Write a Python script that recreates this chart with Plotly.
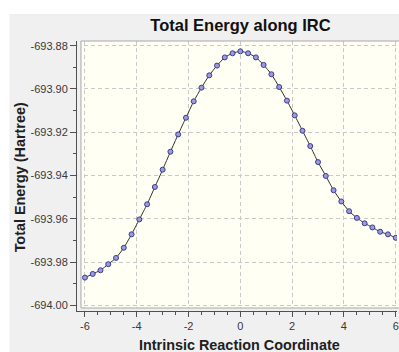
import plotly.graph_objects as go

# IRC coordinate (step 0.3) and total energy in Hartree
irc = [round(-6.0 + 0.3 * i, 1) for i in range(41)]
energy = [
    -693.9872, -693.9855, -693.9838, -693.9810, -693.9781, -693.9734, -693.9672,
    -693.9603, -693.9533, -693.9453, -693.9373, -693.9290, -693.9210, -693.9133,
    -693.9057, -693.8994, -693.8937, -693.8892, -693.8854, -693.8835, -693.8826,
    -693.8835, -693.8854, -693.8889, -693.8932, -693.8991, -693.9054, -693.9122,
    -693.9193, -693.9264, -693.9338, -693.9402, -693.9468, -693.9520, -693.9565,
    -693.9596, -693.9621, -693.9640, -693.9660, -693.9672, -693.9688,
]

x_ticks = [-6, -4, -2, 0, 2, 4, 6]
x_labels = ["-6", "-4", "-2", "0", "2", "4", "6"]
y_ticks = [-693.88, -693.90, -693.92, -693.94, -693.96, -693.98, -694.00]
y_labels = ["-693.88", "-693.90", "-693.92", "-693.94", "-693.96", "-693.98", "-694.00"]

FONT = "Arial, Liberation Sans, sans-serif"
PANEL = "#f0f0f0"
PLOT_BG = "#fffff3"
GRID = "#c9c9c9"
AXIS = "#505050"

W, H = 399, 352
ML, MT, MB = 77, 41, 41
PW, PH = W - ML, H - MT - MB


def px(xp):
    return (xp - ML) / PW


def py(yp):
    return (H - MB - yp) / PH


fig = go.Figure()
fig.add_trace(go.Scatter(
    x=irc, y=energy, mode="lines+markers",
    line=dict(color="#303030", width=1, shape="spline", smoothing=0.6),
    marker=dict(size=5, color="#9a9ade", line=dict(color="#3c3c8c", width=1)),
    showlegend=False, hoverinfo="x+y",
))

shapes = [
    # white strips on the top and left of the grey panel
    dict(type="rect", xref="paper", yref="paper", x0=px(-5), x1=px(W + 5),
         y0=py(14), y1=py(-5), fillcolor="white", line_width=0, layer="below"),
    dict(type="rect", xref="paper", yref="paper", x0=px(-5), x1=px(9),
         y0=py(H + 5), y1=py(-5), fillcolor="white", line_width=0, layer="below"),
    # plot area fill
    dict(type="rect", xref="paper", yref="paper", x0=px(81), x1=px(W + 5),
         y0=py(308), y1=py(41), fillcolor=PLOT_BG, line_width=0, layer="below"),
    # gap between axis lines and the framed area
    dict(type="rect", xref="paper", yref="paper", x0=px(77.5), x1=px(81),
         y0=py(311), y1=py(41), fillcolor=PANEL, line_width=0, layer="above"),
    dict(type="rect", xref="paper", yref="paper", x0=px(77.5), x1=px(W + 5),
         y0=py(310.5), y1=py(308), fillcolor=PANEL, line_width=0, layer="above"),
    # frame around the plot area
    dict(type="rect", xref="paper", yref="paper", x0=px(81), x1=px(W + 5),
         y0=py(308), y1=py(41), fillcolor="rgba(0,0,0,0)",
         line=dict(color="#a8a8a8", width=1), layer="above"),
]

annotations = [
    dict(text="Total Energy (Hartree)", xref="paper", yref="paper",
         x=px(20), y=py(177), textangle=-90, showarrow=False,
         xanchor="center", yanchor="middle",
         font=dict(family=FONT, size=14.4, color="#202020", weight="bold")),
    dict(text="Intrinsic Reaction Coordinate", xref="paper", yref="paper",
         x=px(241), y=py(345), showarrow=False,
         xanchor="center", yanchor="middle",
         font=dict(family=FONT, size=14.4, color="#202020", weight="bold")),
]

fig.update_layout(
    width=W, height=H,
    margin=dict(l=ML, r=0, t=MT, b=MB, pad=0),
    paper_bgcolor=PANEL, plot_bgcolor="rgba(0,0,0,0)",
    title=dict(text="Total Energy along IRC", x=px(241.5), xref="paper",
               y=1 - 25 / H, yref="container", xanchor="center", yanchor="middle",
               font=dict(family=FONT, size=16.5, color="#101010", weight="bold")),
    shapes=shapes, annotations=annotations,
    xaxis=dict(
        range=[-6 + (77 - 85) / 26.06, 6 + (399 - 397.7) / 26.06],
        tickvals=x_ticks, ticktext=x_labels,
        ticks="outside", ticklen=5, tickwidth=1, tickcolor=AXIS,
        minor=dict(dtick=0.5, tick0=0, ticks="outside", ticklen=3,
                   tickcolor=AXIS, showgrid=False),
        showline=True, linecolor=AXIS, linewidth=1,
        showgrid=True, gridcolor=GRID, gridwidth=1, griddash="4px,3px",
        zeroline=False, fixedrange=True, ticklabeloverflow="allow",
        tickfont=dict(family=FONT, size=11, color="#383838"),
    ),
    yaxis=dict(
        range=[-694.0 - (311 - 305.3) / 2163.3, -693.88 + (45.7 - 41) / 2163.3],
        tickvals=y_ticks, ticktext=y_labels,
        ticks="outside", ticklen=6, tickwidth=1, tickcolor=AXIS,
        minor=dict(dtick=0.01, tick0=-694.0, ticks="outside", ticklen=3,
                   tickcolor=AXIS, showgrid=False),
        showline=True, linecolor=AXIS, linewidth=1,
        showgrid=True, gridcolor=GRID, gridwidth=1, griddash="4px,3px",
        zeroline=False, fixedrange=True, ticklabeloverflow="allow",
        tickfont=dict(family=FONT, size=11, color="#383838"),
    ),
)

fig.write_html("out.html", config=dict(displayModeBar=False))
